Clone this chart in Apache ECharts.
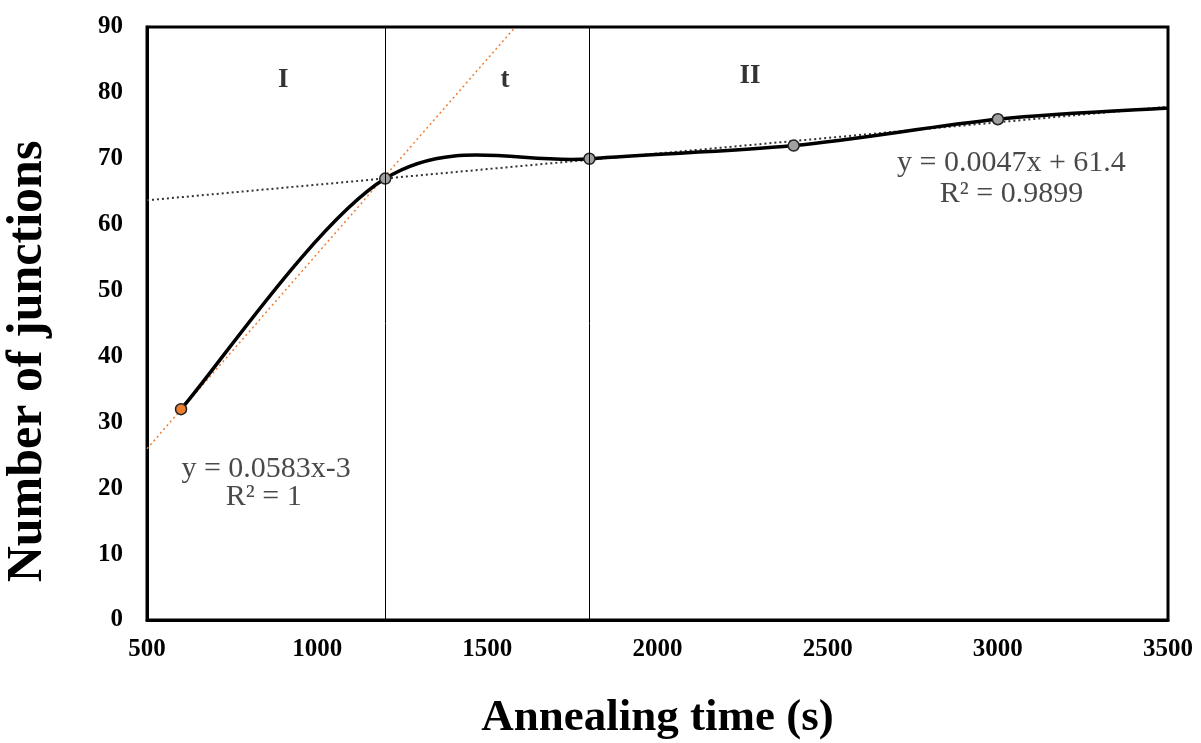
<!DOCTYPE html>
<html>
<head>
<meta charset="utf-8">
<script src="https://cdn.jsdelivr.net/npm/echarts@6/dist/echarts.min.js"></script>
<style>
  html, body { margin: 0; padding: 0; background: #fff; }
  #chart { width: 1201px; height: 743px; }
</style>
</head>
<body>
<div id="chart"></div>
<script>
// measured points (annealing time in s, number of junctions); last one is where the curve leaves the plot
var times = [600, 1200, 1800, 2400, 3000, 3500];
var junctions = [32, 67, 70, 72, 76, 77.7];
var hasMarker = [true, true, true, true, true, false];
// trend lines
var fitI = [[500, 26], [1582, 90]];
var fitII = [[500, 63.7], [3500, 77.9]];
var stageBounds = [1200, 1800];
var stageLabels = [['I', 900, 82], ['t', 1552, 82], ['II', 2272, 82.5]];
var fitLabels = [['y = 0.0583x-3', 850, 22.9], ['R² = 1', 843, 18.6],
                 ['y = 0.0047x + 61.4', 3040, 69.3], ['R² = 0.9899', 3040, 64.7]];
var xTicks = { min: 500, max: 3500, step: 500 };
var yTicks = { min: 0, max: 90, step: 10 };

var serif = '"Liberation Serif", "Times New Roman", serif';
var orange = '#ed7d31';
var chart = echarts.init(document.getElementById('chart'));

var markerData = [];
times.forEach(function (t, i) {
    if (!hasMarker[i]) return;
    var d = { value: [t, junctions[i]] };
    if (i === 0) d.itemStyle = { color: orange };
    markerData.push(d);
});

// smoothed curve like the spreadsheet one: cubic pieces, tangents from the neighbours
function renderCurve(params, api) {
    var i = params.dataIndex;
    if (i >= times.length - 1) return null;
    var p = times.map(function (t, k) { return api.coord([t, junctions[k]]); });
    var a = p[Math.max(i - 1, 0)], b = p[i], c = p[i + 1], d = p[Math.min(i + 2, p.length - 1)];
    return {
        type: 'bezierCurve',
        shape: {
            x1: b[0], y1: b[1], x2: c[0], y2: c[1],
            cpx1: b[0] + (c[0] - a[0]) / 6, cpy1: b[1] + (c[1] - a[1]) / 6,
            cpx2: c[0] - (d[0] - b[0]) / 6, cpy2: c[1] - (d[1] - b[1]) / 6
        },
        style: { fill: null, stroke: '#000', lineWidth: 3.5 }
    };
}

chart.setOption({
    animation: false,
    grid: {
        left: 147, top: 27, right: 33, bottom: 123,
        containLabel: false, outerBoundsMode: 'none',
        show: true, borderColor: '#000', borderWidth: 3
    },
    xAxis: {
        type: 'value', min: xTicks.min, max: xTicks.max, interval: xTicks.step,
        name: 'Annealing time (s)', nameLocation: 'middle', nameGap: 76,
        nameTextStyle: { fontFamily: serif, fontWeight: 'bold', fontSize: 45, color: '#000' },
        axisLine: { lineStyle: { color: '#000', width: 3 } },
        axisTick: { show: false },
        splitLine: { show: false },
        axisLabel: {
            fontFamily: serif, fontWeight: 'bold', fontSize: 25, color: '#000', margin: 17,
            formatter: function (v) { return String(v); }
        }
    },
    yAxis: {
        type: 'value', min: yTicks.min, max: yTicks.max, interval: yTicks.step,
        name: 'Number of junctions', nameLocation: 'middle', nameGap: 94,
        nameTextStyle: {
            fontFamily: serif, fontWeight: 'bold', fontSize: 50, color: '#000',
            padding: [0, 76, 0, 0]
        },
        axisLine: { lineStyle: { color: '#000', width: 3 } },
        axisTick: { show: false },
        splitLine: { show: false },
        axisLabel: { fontFamily: serif, fontWeight: 'bold', fontSize: 25, color: '#000', margin: 24 }
    },
    series: [
        {
            type: 'line', data: fitII, symbol: 'none', z: 2, silent: true,
            lineStyle: { color: '#333', width: 2, type: [2, 3] }
        },
        {
            type: 'line', data: fitI, symbol: 'none', z: 2, silent: true,
            lineStyle: { color: orange, width: 1.5, type: [2, 3] },
            markLine: {
                silent: true, symbol: 'none',
                label: { show: false },
                lineStyle: { color: '#000', width: 1, type: 'solid' },
                data: stageBounds.map(function (x) { return { xAxis: x }; })
            }
        },
        {
            type: 'custom', renderItem: renderCurve, clip: true, z: 3, silent: true,
            data: times.map(function (t, i) { return [t, junctions[i]]; })
        },
        {
            type: 'scatter', data: markerData, z: 4, silent: true,
            symbol: 'circle', symbolSize: 11,
            itemStyle: { color: '#a0a0a0', borderColor: '#222', borderWidth: 1.5, opacity: 1 }
        },
        {
            type: 'scatter', symbolSize: 0, silent: true, z: 5,
            data: stageLabels.map(function (s) { return { value: [s[1], s[2]], name: s[0] }; }),
            label: {
                show: true, position: 'inside', formatter: '{b}',
                fontFamily: serif, fontWeight: 'bold', fontSize: 27, color: '#000'
            }
        },
        {
            type: 'scatter', symbolSize: 0, silent: true, z: 5,
            data: fitLabels.map(function (s) { return { value: [s[1], s[2]], name: s[0] }; }),
            label: {
                show: true, position: 'inside', formatter: '{b}',
                fontFamily: serif, fontSize: 30, color: '#1a1a1a'
            }
        }
    ]
});
</script>
</body>
</html>
